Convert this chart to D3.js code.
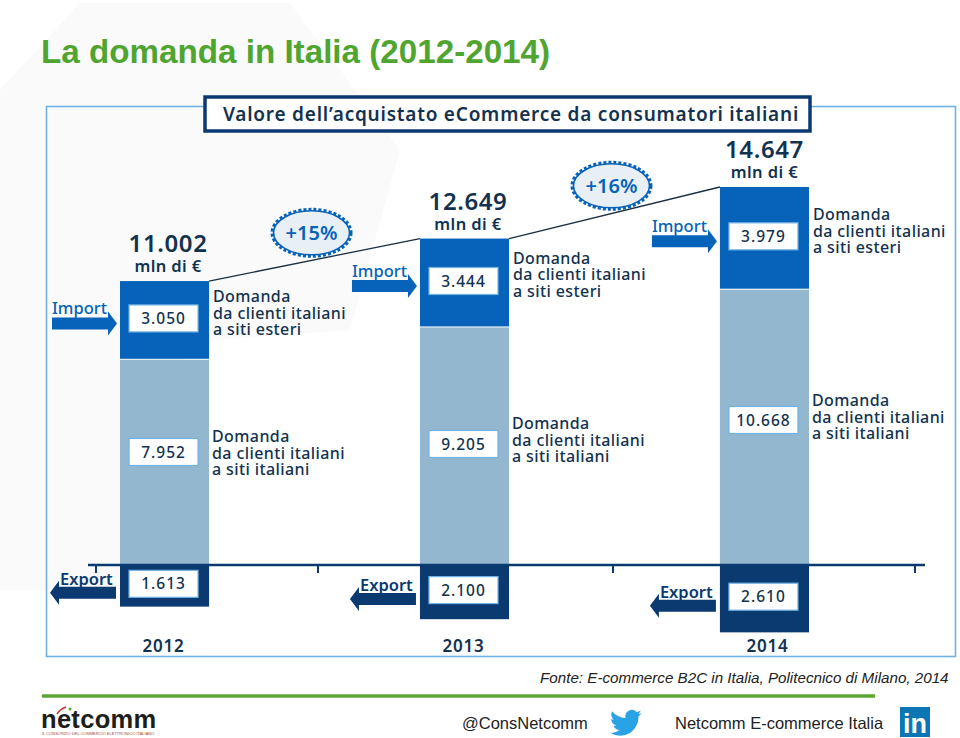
<!DOCTYPE html>
<html>
<head>
<meta charset="utf-8">
<script src="https://cdn.jsdelivr.net/npm/d3@7"></script>
<style>
  html, body { margin: 0; padding: 0; background: #fff; }
  svg { display: block; }
  .lbl { font-family: "Noto Sans", sans-serif; font-weight: 600; fill: #12324f; }
  .foot { font-family: "Liberation Sans", Arial, sans-serif; fill: #222; }
</style>
</head>
<body>
<div id="chart"></div>
<script>
const years = ['2012', '2013', '2014'];
const domestic = [7952, 9205, 10668];
const imports = [3050, 3444, 3979];
const exportsVal = [1613, 2100, 2610];
const totals = [11002, 12649, 14647];
const growth = ['+15%', '+16%'];
const sideImport = ['Domanda', 'da clienti italiani', 'a siti esteri'];
const sideDomestic = ['Domanda', 'da clienti italiani', 'a siti italiani'];

const NAVY = '#0a3a70', BLUE = '#0663b9', LIGHT = '#92b7cf', FRAME = '#70b2e4', GREEN = '#5aa832';

const svg = d3.select('#chart').append('svg').attr('width', 960).attr('height', 738);
const fmt = d3.formatLocale({decimal: ',', thousands: '.', grouping: [3], currency: ['', '']}).format(',');

// faint slide background
svg.append('polygon')
    .attr('points', '0,90 80,3 290,3 400,150 350,330 215,340 125,400 120,590 0,590')
    .attr('fill', '#fafafa');

svg.append('text')
    .attr('x', 41).attr('y', 63)
    .attr('font-family', '"Liberation Sans", Arial, sans-serif')
    .attr('font-weight', 700).attr('font-size', 33.2)
    .attr('fill', '#4fa52f')
    .text('La domanda in Italia (2012-2014)');

// frame + header
svg.append('rect').attr('x', 46.5).attr('y', 106.5).attr('width', 909).attr('height', 550)
    .attr('fill', 'none').attr('stroke', FRAME).attr('stroke-width', 1.6);
svg.append('rect').attr('x', 205).attr('y', 97).attr('width', 605).attr('height', 34)
    .attr('fill', '#fff').attr('stroke', NAVY).attr('stroke-width', 3.5);
svg.append('text').attr('class', 'lbl')
    .attr('x', 511).attr('y', 121).attr('text-anchor', 'middle')
    .attr('font-size', 19).attr('letter-spacing', 0.77)
    .text('Valore dell\u2019acquistato eCommerce da consumatori italiani');

const x = d3.scaleBand().domain(years).range([120, 809]).paddingInner(0.703).paddingOuter(0);
const y = d3.scaleLinear().domain([0, 14647]).range([565, 187]);
const bw = x.bandwidth();

// bars
const g = svg.append('g');
g.selectAll('.dom').data(years).enter().append('rect').attr('class', 'dom')
    .attr('x', d => x(d)).attr('width', bw)
    .attr('y', (d, i) => y(domestic[i])).attr('height', (d, i) => y(0) - y(domestic[i]))
    .attr('fill', LIGHT);
g.selectAll('.imp').data(years).enter().append('rect').attr('class', 'imp')
    .attr('x', d => x(d)).attr('width', bw)
    .attr('y', (d, i) => y(totals[i])).attr('height', (d, i) => y(domestic[i]) - y(totals[i]) - 1)
    .attr('fill', BLUE);
// export goes below the baseline
g.selectAll('.exp').data(years).enter().append('rect').attr('class', 'exp')
    .attr('x', d => x(d)).attr('width', bw)
    .attr('y', y(0)).attr('height', (d, i) => y(0) - y(exportsVal[i]))
    .attr('fill', NAVY);

// baseline with ticks
svg.append('line').attr('x1', 88).attr('x2', 925).attr('y1', y(0)).attr('y2', y(0))
    .attr('stroke', NAVY).attr('stroke-width', 2.5);
[96, 318, 613, 915].forEach(t => {
    svg.append('line').attr('x1', t).attr('x2', t).attr('y1', y(0)).attr('y2', y(0) + 8)
        .attr('stroke', NAVY).attr('stroke-width', 2);
});

function valueBox(cx, cy, value) {
    svg.append('rect').attr('x', cx - 34.5).attr('y', cy - 13.5).attr('width', 69).attr('height', 27)
        .attr('fill', '#fff').attr('stroke', FRAME).attr('stroke-width', 1.2);
    svg.append('text').attr('class', 'lbl')
        .attr('x', cx).attr('y', cy + 5.5).attr('text-anchor', 'middle')
        .attr('font-size', 15.5).attr('letter-spacing', 1).style('font-weight', 500)
        .text(fmt(value));
}

function sideText(tx, ty, lines) {
    svg.append('text').attr('class', 'lbl').attr('font-size', 16).attr('letter-spacing', 0.4).style('font-weight', 500)
        .selectAll('tspan').data(lines).enter().append('tspan')
        .attr('x', tx).attr('y', (d, i) => ty + i * 16.5)
        .text(d => d);
}

function arrow(x0, x1, cy, color) {
    // x0 = tail, x1 = tip
    const dir = x1 > x0 ? 1 : -1, neck = x1 - dir * 9;
    svg.append('path')
        .attr('d', `M${x0},${cy - 6}L${neck},${cy - 6}L${neck},${cy - 12}L${x1},${cy}L${neck},${cy + 12}L${neck},${cy + 6}L${x0},${cy + 6}Z`)
        .attr('fill', color);
}

// vertical placement of the annotations, per year
const domBoxY = [452, 444, 420];
const domTextY = [442, 429, 406];
const impTextOff = [21, 25, 33];
const totalOff = [3.5, 3.5, 0];

years.forEach((yr, i) => {
    const bx = x(yr), cx = bx + bw / 2, top = y(totals[i]), split = y(domestic[i]);
    const impY = (top + split) / 2 - 2, expY = y(0) + (y(0) - y(exportsVal[i])) / 2 - 2;

    svg.append('text').attr('class', 'lbl')
        .attr('x', cx + totalOff[i]).attr('y', top - 29).attr('text-anchor', 'middle')
        .attr('font-size', 24).attr('font-weight', 700).attr('letter-spacing', 0.6).text(fmt(totals[i]));
    svg.append('text').attr('class', 'lbl')
        .attr('x', cx + totalOff[i]).attr('y', top - 9).attr('text-anchor', 'middle')
        .attr('font-size', 16.5).attr('letter-spacing', 0.4).text('mln di \u20ac');

    valueBox(cx - 1, impY, imports[i]);
    valueBox(cx - 1, domBoxY[i], domestic[i]);
    valueBox(cx - 1, expY, exportsVal[i]);

    sideText(bx + 93, top + impTextOff[i], sideImport);
    sideText(bx + 92, domTextY[i], sideDomestic);

    arrow(bx - 68, bx - 3, impY + 5, BLUE);
    svg.append('text').attr('class', 'lbl').style('fill', BLUE).style('font-weight', 500)
        .attr('x', bx - 68).attr('y', impY - 4).attr('font-size', 16.5).text('Import');

    arrow(bx - 4, bx - 70, expY + 9, NAVY);
    svg.append('text').attr('class', 'lbl').style('fill', NAVY)
        .attr('x', bx - 60).attr('y', expY + 1).attr('font-size', 16.5).text('Export');

    svg.append('text').attr('class', 'lbl')
        .attr('x', cx + (i === 2 ? 3 : -1)).attr('y', 652).attr('text-anchor', 'middle')
        .attr('font-size', 17).attr('font-weight', 700).attr('letter-spacing', 0.8).text(yr);
});

// growth lines + badges
growth.forEach((label, i) => {
    const x1 = x(years[i]) + bw, y1 = y(totals[i]), x2 = x(years[i + 1]), y2 = y(totals[i + 1]);
    svg.append('line').attr('x1', x1).attr('y1', y1).attr('x2', x2).attr('y2', y2)
        .attr('stroke', '#1b2f40').attr('stroke-width', 1.3);
    const mx = (x1 + x2) / 2 - 3, my = (y1 + y2) / 2 - 27;
    svg.append('ellipse').attr('cx', mx).attr('cy', my).attr('rx', 39).attr('ry', 23)
        .attr('fill', 'none').attr('stroke', BLUE).attr('stroke-width', 4).attr('stroke-dasharray', '3 2');
    svg.append('ellipse').attr('cx', mx).attr('cy', my).attr('rx', 38).attr('ry', 22)
        .attr('fill', '#e8eff5').attr('stroke', BLUE).attr('stroke-width', 1.6);
    svg.append('text').attr('class', 'lbl').style('fill', BLUE)
        .attr('x', mx).attr('y', my + 7.5).attr('text-anchor', 'middle')
        .attr('font-size', 20).text(label);
});

// footer
svg.append('text').attr('class', 'foot')
    .attr('x', 540).attr('y', 683).attr('font-size', 15.2).attr('font-style', 'italic')
    .text('Fonte: E-commerce B2C in Italia, Politecnico di Milano, 2014');
svg.append('line').attr('x1', 42).attr('x2', 875).attr('y1', 696).attr('y2', 696)
    .attr('stroke', GREEN).attr('stroke-width', 3.5);
svg.append('text').attr('class', 'foot').attr('x', 462).attr('y', 729).attr('font-size', 16.5).text('@ConsNetcomm');
svg.append('text').attr('class', 'foot').attr('x', 675).attr('y', 729).attr('font-size', 16.5).text('Netcomm E-commerce Italia');

svg.append('path')
    .attr('transform', 'translate(610,707) scale(1.32)')
    .attr('d', 'M23.953 4.57a10 10 0 01-2.825.775 4.958 4.958 0 002.163-2.723c-.951.555-2.005.959-3.127 1.184a4.92 4.92 0 00-8.384 4.482C7.69 8.095 4.067 6.13 1.64 3.162a4.822 4.822 0 00-.666 2.475c0 1.71.87 3.213 2.188 4.096a4.904 4.904 0 01-2.228-.616v.06a4.923 4.923 0 003.946 4.827 4.996 4.996 0 01-2.212.085 4.936 4.936 0 004.604 3.417 9.867 9.867 0 01-6.102 2.105c-.39 0-.779-.023-1.17-.067a13.995 13.995 0 007.557 2.209c9.053 0 13.998-7.496 13.998-13.985 0-.21 0-.42-.015-.63A9.935 9.935 0 0024 4.59z')
    .attr('fill', '#2aa3e6');

svg.append('rect').attr('x', 900).attr('y', 707).attr('width', 30).attr('height', 30).attr('fill', '#0c76b4');
svg.append('text').attr('x', 915).attr('y', 733).attr('text-anchor', 'middle')
    .attr('font-family', '"Liberation Sans", Arial, sans-serif').attr('font-weight', 700)
    .attr('font-size', 27).attr('fill', '#fff').text('in');

// netcomm logo
svg.append('text').attr('x', 41).attr('y', 728)
    .attr('font-family', '"Liberation Sans", Arial, sans-serif').attr('font-weight', 700)
    .attr('font-size', 25.5).attr('fill', '#1d1d1b').attr('letter-spacing', 0.3).text('netcomm');
svg.append('text').attr('x', 42).attr('y', 735)
    .attr('font-family', '"Liberation Sans", Arial, sans-serif')
    .attr('font-size', 4).attr('fill', '#a8483a')
    .text('IL CONSORZIO DEL COMMERCIO ELETTRONICO ITALIANO');
svg.append('path').attr('d', 'M57,714 Q60,709 66,707').attr('fill', 'none').attr('stroke', '#c8352b').attr('stroke-width', 1.5);
svg.append('circle').attr('cx', 70).attr('cy', 709).attr('r', 1.5).attr('fill', '#5aa832');
</script>
</body>
</html>
